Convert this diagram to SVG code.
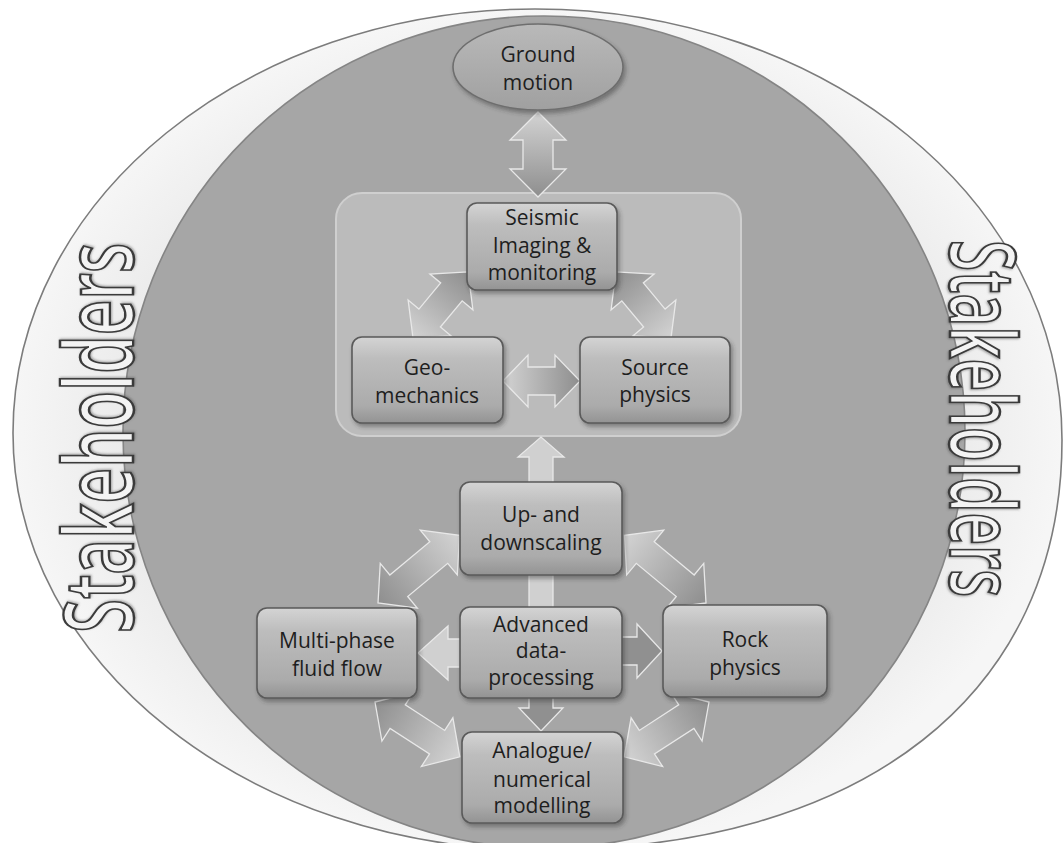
<svg xmlns="http://www.w3.org/2000/svg" width="1063" height="843" viewBox="0 0 1063 843">
  <defs>
    <linearGradient id="gBox" x1="0" y1="0" x2="0" y2="1">
      <stop offset="0" stop-color="#d4d4d4"/>
      <stop offset="0.25" stop-color="#bdbdbd"/>
      <stop offset="0.8" stop-color="#ababab"/>
      <stop offset="1" stop-color="#939393"/>
    </linearGradient>
    <linearGradient id="gEll" x1="0" y1="0" x2="0" y2="1">
      <stop offset="0" stop-color="#b9b9b9"/>
      <stop offset="1" stop-color="#a0a0a0"/>
    </linearGradient>
    <linearGradient id="gLD" x1="0" y1="0" x2="1" y2="0">
      <stop offset="0" stop-color="#d3d3d3"/>
      <stop offset="1" stop-color="#8e8e8e"/>
    </linearGradient>
    <linearGradient id="gDL" x1="0" y1="0" x2="1" y2="0">
      <stop offset="0" stop-color="#8e8e8e"/>
      <stop offset="1" stop-color="#d3d3d3"/>
    </linearGradient>
    <radialGradient id="gOuter" cx="0.5" cy="0.5" r="0.5">
      <stop offset="0.75" stop-color="#e9e9e9"/>
      <stop offset="1" stop-color="#f6f6f6"/>
    </radialGradient>
    <filter id="sh" x="-10%" y="-10%" width="125%" height="130%">
      <feDropShadow dx="2" dy="3" stdDeviation="2" flood-color="#333" flood-opacity="0.45"/>
    </filter>
    <filter id="tsh" x="-5%" y="-20%" width="110%" height="140%">
      <feDropShadow dx="1" dy="1" stdDeviation="1" flood-color="#555" flood-opacity="0.5"/>
    </filter>
  </defs>
  <style>
    .box { fill: url(#gBox); stroke: #5a5a5a; stroke-width: 1.6; filter: url(#sh); }
    .lbl { font-family: "Open Sans", "Liberation Sans", sans-serif; font-size: 21px; fill: #1e1e1e; text-anchor: middle; }
    .arr { stroke: #e8e8e8; stroke-width: 1.3; stroke-linejoin: miter; }
    .light { fill: #d0d0d0; }
    .dark { fill: #909090; }
    .stake { font-family: "Open Sans", "Liberation Sans", sans-serif; font-weight: 600; fill: #f3f3f3; stroke: #3a3a3a; stroke-width: 2.4; filter: url(#tsh); }
  </style>

  <rect width="1063" height="843" fill="#ffffff"/>

  <g id="background">
    <path d="M535,9 C826,9 1062,202 1062,440 C1062,694 864,850 540,850 C249,850 13,662 13,433 C13,199 247,9 535,9 Z" fill="url(#gOuter)" stroke="#7c7c7c" stroke-width="1.6"/>
    <ellipse cx="544" cy="432" rx="421" ry="416" fill="#a6a6a6" stroke="#858585" stroke-width="1.6"/>
    <rect x="336" y="193" width="405" height="243" rx="26" fill="#bbbbbb" stroke="#cfcfcf" stroke-width="2"/>
  </g>

  <g id="stakeholders-left">
    <text class="stake" font-size="96" transform="translate(133,633) rotate(-90)" textLength="390" lengthAdjust="spacingAndGlyphs">Stakeholders</text>
  </g>
  <g id="stakeholders-right">
    <text class="stake" font-size="90" transform="translate(950,240) rotate(90)" textLength="357" lengthAdjust="spacingAndGlyphs">Stakeholders</text>
  </g>

  <g id="connectors">
    <polygon class="arr" fill="url(#gLD)" transform="translate(538,112) rotate(90)" points="0,0 28,-28 28,-15 57,-15 57,-28 85,0 57,28 57,15 28,15 28,28"/>
    <polygon class="arr" fill="url(#gLD)" transform="translate(413,338) rotate(-50.2)" points="0,0 26,-28 26,-14 60,-14 60,-28 86,0 60,28 60,14 26,14 26,28"/>
    <polygon class="arr" fill="url(#gLD)" transform="translate(671,338) rotate(-129.8)" points="0,0 26,-28 26,-14 60,-14 60,-28 86,0 60,28 60,14 26,14 26,28"/>
    <polygon class="arr" fill="url(#gLD)" transform="translate(503,381)" points="0,0 25,-26 25,-14 52,-14 52,-26 77,0 52,26 52,14 25,14 25,26"/>
    <polygon class="arr light" transform="translate(541,640) rotate(-90)" points="0,-12 183,-12 183,-23 203,0 183,23 183,12 0,12"/>
    <polygon class="arr" fill="url(#gDL)" transform="translate(378,603) rotate(-39.7)" points="0,0 27,-29 27,-14 79,-14 79,-29 106,0 79,29 79,14 27,14 27,29"/>
    <polygon class="arr" fill="url(#gDL)" transform="translate(706,603) rotate(-140.3)" points="0,0 27,-29 27,-14 79,-14 79,-29 106,0 79,29 79,14 27,14 27,29"/>
    <polygon class="arr" fill="url(#gDL)" transform="translate(375,702) rotate(32.9)" points="0,0 27,-29 27,-14 74,-14 74,-29 101,0 74,29 74,14 27,14 27,29"/>
    <polygon class="arr" fill="url(#gDL)" transform="translate(709,702) rotate(147.1)" points="0,0 27,-29 27,-14 74,-14 74,-29 101,0 74,29 74,14 27,14 27,29"/>
    <polygon class="arr light" transform="translate(480,653) rotate(180)" points="0,-14 32,-14 32,-27 62,0 32,27 32,14 0,14"/>
    <polygon class="arr dark" transform="translate(600,651)" points="0,-14 37,-14 37,-27 62,0 37,27 37,14 0,14"/>
    <polygon class="arr dark" transform="translate(541,680) rotate(90)" points="0,-12 28,-12 28,-22 51,0 28,22 28,12 0,12"/>
  </g>

  <g id="ground-motion">
    <ellipse cx="538" cy="67" rx="85" ry="43" fill="url(#gEll)" stroke="#6e6e6e" stroke-width="1.6" filter="url(#sh)"/>
    <text class="lbl"><tspan x="538" y="62">Ground</tspan><tspan x="538" y="90">motion</tspan></text>
  </g>

  <g id="seismic">
    <rect class="box" x="467" y="203" width="150" height="87" rx="10"/>
    <text class="lbl"><tspan x="542" y="225">Seismic</tspan><tspan x="542" y="253">Imaging &amp;</tspan><tspan x="542" y="280">monitoring</tspan></text>
  </g>

  <g id="geomechanics">
    <rect class="box" x="352" y="337" width="151" height="86" rx="10"/>
    <text class="lbl"><tspan x="427" y="375">Geo-</tspan><tspan x="427" y="403">mechanics</tspan></text>
  </g>

  <g id="source-physics">
    <rect class="box" x="580" y="337" width="150" height="86" rx="10"/>
    <text class="lbl"><tspan x="655" y="375">Source</tspan><tspan x="655" y="402">physics</tspan></text>
  </g>

  <g id="upscaling">
    <rect class="box" x="460" y="482" width="162" height="93" rx="10"/>
    <text class="lbl"><tspan x="541" y="522">Up- and</tspan><tspan x="541" y="550">downscaling</tspan></text>
  </g>

  <g id="multiphase">
    <rect class="box" x="257" y="608" width="160" height="90" rx="10"/>
    <text class="lbl"><tspan x="337" y="648">Multi-phase</tspan><tspan x="337" y="676">fluid flow</tspan></text>
  </g>

  <g id="advanced">
    <rect class="box" x="460" y="607" width="162" height="91" rx="10"/>
    <text class="lbl"><tspan x="541" y="632">Advanced</tspan><tspan x="541" y="658">data-</tspan><tspan x="541" y="685">processing</tspan></text>
  </g>

  <g id="rock-physics">
    <rect class="box" x="663" y="605" width="164" height="92" rx="10"/>
    <text class="lbl"><tspan x="745" y="647">Rock</tspan><tspan x="745" y="675">physics</tspan></text>
  </g>

  <g id="analogue">
    <rect class="box" x="462" y="732" width="161" height="91" rx="10"/>
    <text class="lbl"><tspan x="542" y="758">Analogue/</tspan><tspan x="542" y="787">numerical</tspan><tspan x="542" y="813">modelling</tspan></text>
  </g>
</svg>
